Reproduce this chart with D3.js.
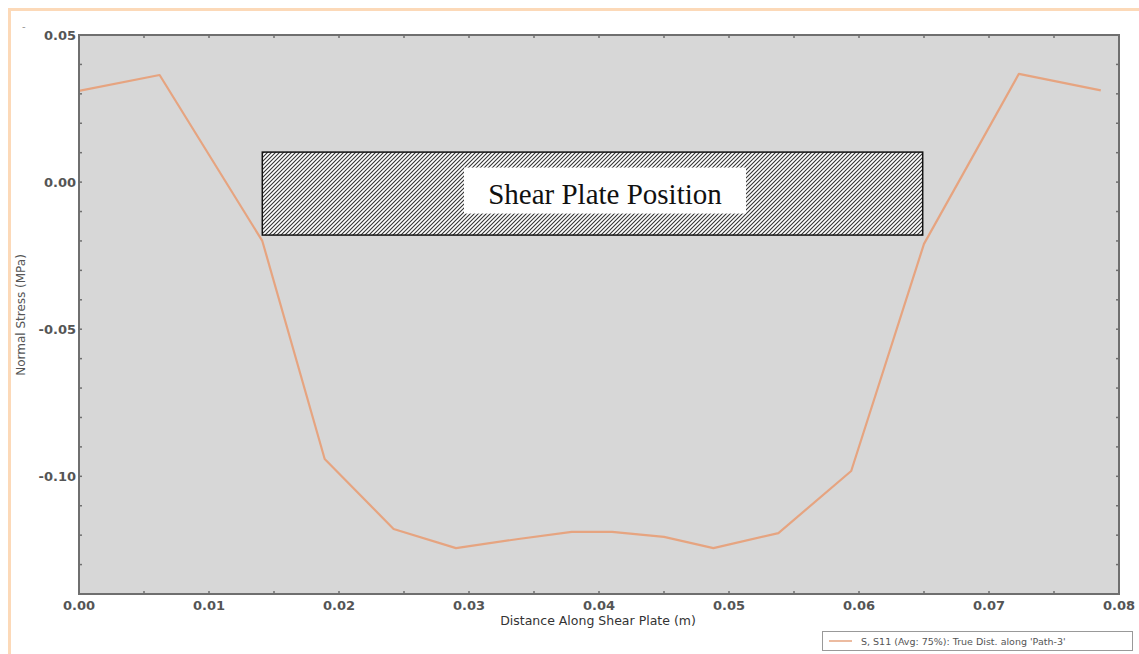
<!DOCTYPE html>
<html><head><meta charset="utf-8">
<script src="https://cdn.jsdelivr.net/npm/d3@7"></script>
<style>body{margin:0;background:#fff;} svg{display:block;}</style>
</head><body>
<svg id="chart" width="1139" height="654"></svg>
<script>
// ---- data ----
const distance = [0.0000, 0.0062, 0.0141, 0.0189, 0.0242, 0.0290, 0.0338, 0.0379, 0.0410, 0.0450, 0.0488, 0.0538, 0.0594, 0.0650, 0.0723, 0.0786];
const stress   = [0.0310, 0.0364, -0.0200, -0.0941, -0.1179, -0.1244, -0.1213, -0.1189, -0.1189, -0.1206, -0.1244, -0.1193, -0.0982, -0.0210, 0.0368, 0.0312];
const xTickLabels = ["0.00","0.01","0.02","0.03","0.04","0.05","0.06","0.07","0.08"];
const yTickLabels = ["0.05","0.00","-0.05","-0.10"];
const plateX = [0.0141, 0.0649];
const plateY = [0.0102, -0.0180];
const plateLabel = "Shear Plate Position";
const xTitle = "Distance Along Shear Plate (m)";
const yTitle = "Normal Stress (MPa)";
const legendLabel = "S, S11 (Avg: 75%): True Dist. along 'Path-3'";

// ---- layout ----
const svg = d3.select("#chart");
const L = 79, T = 35, R = 1119, B = 594;
const x = d3.scaleLinear().domain([0, 0.08]).range([L, R]);
const y = d3.scaleLinear().domain([-0.1400, 0.05]).range([B, T]);
const lineColor = "#e6a480";

// outer frame (light orange)
svg.append("line").attr("x1",8).attr("x2",1139).attr("y1",9.5).attr("y2",9.5).attr("stroke","#fcd9b8").attr("stroke-width",3);
svg.append("line").attr("x1",9.5).attr("x2",9.5).attr("y1",8).attr("y2",654).attr("stroke","#fcd9b8").attr("stroke-width",3);

// plot background
svg.append("rect").attr("x",L).attr("y",T).attr("width",R-L).attr("height",B-T).attr("fill","#d7d7d7");

// hatch pattern
const defs = svg.append("defs");
const pat = defs.append("pattern").attr("id","hatch").attr("patternUnits","userSpaceOnUse")
  .attr("width",4).attr("height",4);
pat.append("rect").attr("width",4).attr("height",4).attr("fill","#fff");
pat.append("path").attr("d","M-1,1 l2,-2 M0,4 l4,-4 M3,5 l2,-2").attr("stroke","#333").attr("stroke-width",1.1);

// data line
const line = d3.line().x((d,i)=>x(distance[i])).y((d,i)=>y(stress[i]));
svg.append("path").datum(stress).attr("d",line).attr("fill","none")
  .attr("stroke",lineColor).attr("stroke-width",2.2).attr("stroke-linejoin","round");

// shear plate box
const px0 = x(plateX[0]), px1 = x(plateX[1]), py0 = y(plateY[0]), py1 = y(plateY[1]);
svg.append("rect").attr("x",px0).attr("y",py0).attr("width",px1-px0).attr("height",py1-py0)
  .attr("fill","url(#hatch)").attr("stroke","#111").attr("stroke-width",1.5);
const pcx = 605;
const pcy = (py0+py1)/2;
svg.append("rect").attr("x",pcx-141).attr("y",pcy-26).attr("width",282).attr("height",46).attr("fill","#fff");
svg.append("text").attr("x",pcx).attr("y",pcy+10).attr("text-anchor","middle")
  .attr("font-family","'Liberation Serif', 'Times New Roman', serif").attr("font-size",29).attr("fill","#111")
  .text(plateLabel);

// axes frame
const axColor = "#6f6f6f";
svg.append("rect").attr("x",L).attr("y",T).attr("width",R-L).attr("height",B-T)
  .attr("fill","none").attr("stroke",axColor).attr("stroke-width",2);

// ticks (inner, on all sides)
const xMinor = d3.range(0, 0.0801, 0.005);
const yMinor = d3.range(-0.14, 0.0501, 0.01);
xMinor.forEach(v=>{
  svg.append("line").attr("x1",x(v)).attr("x2",x(v)).attr("y1",B).attr("y2",B-3).attr("stroke",axColor).attr("stroke-width",1.5);
  svg.append("line").attr("x1",x(v)).attr("x2",x(v)).attr("y1",T).attr("y2",T+3).attr("stroke",axColor).attr("stroke-width",1.5);
});
yMinor.forEach(v=>{
  svg.append("line").attr("x1",L).attr("x2",L+3).attr("y1",y(v)).attr("y2",y(v)).attr("stroke",axColor).attr("stroke-width",1.5);
  svg.append("line").attr("x1",R).attr("x2",R-3).attr("y1",y(v)).attr("y2",y(v)).attr("stroke",axColor).attr("stroke-width",1.5);
});

// tick labels
const tickFont = "'DejaVu Sans', Verdana, sans-serif";
xTickLabels.forEach(t=>{
  svg.append("text").attr("x",x(+t)).attr("y",B+16).attr("text-anchor","middle")
    .attr("font-family",tickFont).attr("font-weight","bold").attr("font-size",13).attr("fill","#555").text(t);
});
yTickLabels.forEach(t=>{
  svg.append("text").attr("x",L-3).attr("y",y(+t)+5).attr("text-anchor","end")
    .attr("font-family",tickFont).attr("font-weight","bold").attr("font-size",13).attr("fill","#555").text(t);
});
svg.append("text").attr("x",22).attr("y",30).attr("font-family",tickFont).attr("font-size",10).attr("fill","#999").text("-");

// axis titles
svg.append("text").attr("x",598).attr("y",625).attr("text-anchor","middle")
  .attr("font-family",tickFont).attr("font-size",12.5).attr("fill","#333").text(xTitle);
svg.append("text").attr("transform","translate(25,315) rotate(-90)").attr("text-anchor","middle")
  .attr("font-family",tickFont).attr("font-size",12).attr("fill","#555").text(yTitle);

// legend
svg.append("rect").attr("x",822.5).attr("y",631.5).attr("width",310).attr("height",19)
  .attr("fill","#fff").attr("stroke","#999").attr("stroke-width",1);
svg.append("line").attr("x1",829).attr("x2",852).attr("y1",641).attr("y2",641).attr("stroke",lineColor).attr("stroke-width",1.5);
svg.append("text").attr("x",861).attr("y",645).attr("font-family",tickFont).attr("font-size",9.5)
  .attr("fill","#555").text(legendLabel);
</script>
</body></html>
